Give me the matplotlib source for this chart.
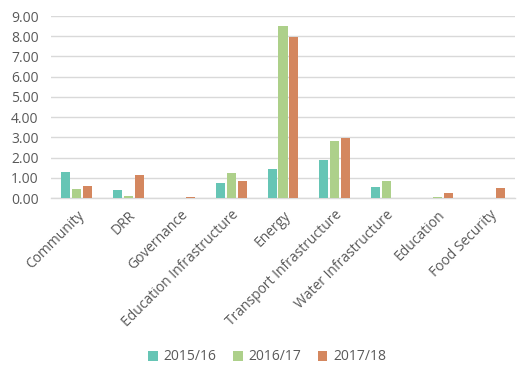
import matplotlib
matplotlib.use('Agg')
import matplotlib.pyplot as plt
import numpy as np

plt.rcParams['font.family'] = ['Open Sans', 'DejaVu Sans']

categories = ['Community', 'DRR', 'Governance', 'Education Infrastructure', 'Energy',
              'Transport Infrastructure', 'Water Infrastructure', 'Education', 'Food Security']
series_names = ['2015/16', '2016/17', '2017/18']
v_2015 = [1.30, 0.40, 0.00, 0.75, 1.45, 1.88, 0.55, 0.00, 0.00]
v_2016 = [0.45, 0.10, 0.00, 1.25, 8.52, 2.83, 0.85, 0.03, 0.00]
v_2017 = [0.60, 1.15, 0.05, 0.85, 7.97, 2.98, 0.00, 0.27, 0.50]

COLORS = ['#66C5B5', '#ADD08A', '#D4875F']
GRID = '#D9D9D9'
TEXT = '#595959'

fig = plt.figure(figsize=(5.29, 3.78), dpi=100)
ax = fig.add_axes([51 / 529, 1 - 198 / 378, 464 / 529, 182 / 378])

x = np.arange(len(categories))
width = 0.175
step = 0.213
for i, (vals, name) in enumerate(zip([v_2015, v_2016, v_2017], series_names)):
    ax.bar(x + (i - 1) * step, vals, width=width, color=COLORS[i], label=name, zorder=3)

ax.set_xlim(-0.5, len(categories) - 0.5)
ax.set_ylim(0, 9)
ax.set_yticks(np.arange(0, 10, 1))
ax.set_yticklabels([f'{v:.2f}' for v in range(10)])
ax.yaxis.grid(True, color=GRID, linewidth=1, zorder=0)
ax.set_axisbelow(True)
for sp in ['top', 'right', 'left']:
    ax.spines[sp].set_visible(False)
ax.spines['bottom'].set_color(GRID)
ax.spines['bottom'].set_linewidth(1)
ax.tick_params(axis='both', length=0, colors=TEXT, labelsize=10)
ax.tick_params(axis='y', pad=9)
ax.tick_params(axis='x', pad=7)
ax.set_xticks(x)
ax.set_xticklabels(categories, rotation=45, ha='right', rotation_mode='anchor')

fig.legend(loc='center', bbox_to_anchor=(267 / 529, 1 - 357 / 378), ncol=3, frameon=False,
           fontsize=10, labelcolor=TEXT, handlelength=0.7, handleheight=0.7,
           handletextpad=0.4, columnspacing=1.2)

fig.savefig('out.png', dpi=100)
